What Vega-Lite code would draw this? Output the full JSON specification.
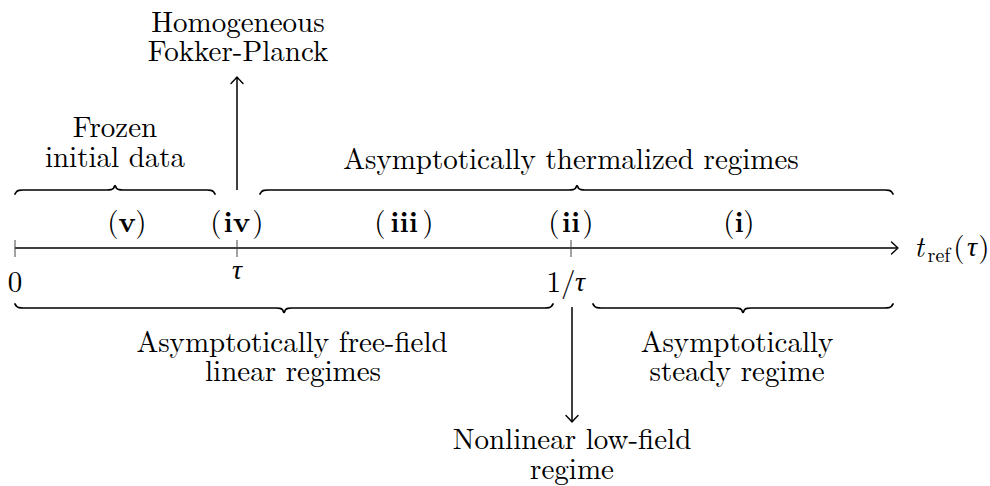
{
  "$schema": "https://vega.github.io/schema/vega-lite/v6.json",
  "width": 990,
  "height": 486,
  "autosize": {"type": "fit", "contains": "padding"},
  "padding": 0,
  "background": "white",
  "config": {"view": {"stroke": null}},
  "datasets": {
    "rules": [
      {"kind": "main", "x": 15, "y": 248, "x2": 897, "y2": 248},
      {"kind": "main", "x": 237, "y": 190, "x2": 237, "y2": 78},
      {"kind": "main", "x": 572, "y": 307, "x2": 572, "y2": 421},
      {"kind": "tick", "x": 15, "y": 240, "x2": 15, "y2": 257},
      {"kind": "tick", "x": 237, "y": 240, "x2": 237, "y2": 257},
      {"kind": "tick", "x": 571, "y": 240, "x2": 571, "y2": 257}
    ],
    "heads": [
      {"id": "right", "o": 1, "x": 891.5, "y": 242},
      {"id": "right", "o": 2, "x": 895.5, "y": 245.8},
      {"id": "right", "o": 3, "x": 898, "y": 248},
      {"id": "right", "o": 4, "x": 895.5, "y": 250.2},
      {"id": "right", "o": 5, "x": 891.5, "y": 254},
      {"id": "up", "o": 1, "x": 231, "y": 83.5},
      {"id": "up", "o": 2, "x": 234.8, "y": 79.5},
      {"id": "up", "o": 3, "x": 237, "y": 77},
      {"id": "up", "o": 4, "x": 239.2, "y": 79.5},
      {"id": "up", "o": 5, "x": 243, "y": 83.5},
      {"id": "down", "o": 1, "x": 566, "y": 415.5},
      {"id": "down", "o": 2, "x": 569.8, "y": 419.5},
      {"id": "down", "o": 3, "x": 572, "y": 422},
      {"id": "down", "o": 4, "x": 574.2, "y": 419.5},
      {"id": "down", "o": 5, "x": 578, "y": 415.5}
    ],
    "braces": [
      {"id": "ul", "x": 15, "y": 194}, {"id": "ul", "x": 16.5, "y": 191.8}, {"id": "ul", "x": 19, "y": 190.4}, {"id": "ul", "x": 23, "y": 190},
      {"id": "ul", "x": 107, "y": 190}, {"id": "ul", "x": 111, "y": 189.6}, {"id": "ul", "x": 113.5, "y": 188.2}, {"id": "ul", "x": 115, "y": 185.5},
      {"id": "ul", "x": 116.5, "y": 188.2}, {"id": "ul", "x": 119, "y": 189.6}, {"id": "ul", "x": 123, "y": 190},
      {"id": "ul", "x": 207, "y": 190}, {"id": "ul", "x": 211, "y": 190.4}, {"id": "ul", "x": 213.5, "y": 191.8}, {"id": "ul", "x": 215, "y": 194},

      {"id": "ur", "x": 260, "y": 194}, {"id": "ur", "x": 261.5, "y": 191.8}, {"id": "ur", "x": 264, "y": 190.4}, {"id": "ur", "x": 268, "y": 190},
      {"id": "ur", "x": 569, "y": 190}, {"id": "ur", "x": 573, "y": 189.6}, {"id": "ur", "x": 575.5, "y": 188.2}, {"id": "ur", "x": 577, "y": 185.5},
      {"id": "ur", "x": 578.5, "y": 188.2}, {"id": "ur", "x": 581, "y": 189.6}, {"id": "ur", "x": 585, "y": 190},
      {"id": "ur", "x": 885, "y": 190}, {"id": "ur", "x": 889, "y": 190.4}, {"id": "ur", "x": 891.5, "y": 191.8}, {"id": "ur", "x": 893, "y": 194},

      {"id": "ll", "x": 15, "y": 304}, {"id": "ll", "x": 16.5, "y": 306.2}, {"id": "ll", "x": 19, "y": 307.6}, {"id": "ll", "x": 23, "y": 308},
      {"id": "ll", "x": 276, "y": 308}, {"id": "ll", "x": 280, "y": 308.4}, {"id": "ll", "x": 282.5, "y": 309.8}, {"id": "ll", "x": 284, "y": 312.5},
      {"id": "ll", "x": 285.5, "y": 309.8}, {"id": "ll", "x": 288, "y": 308.4}, {"id": "ll", "x": 292, "y": 308},
      {"id": "ll", "x": 545, "y": 308}, {"id": "ll", "x": 549, "y": 307.6}, {"id": "ll", "x": 551.5, "y": 306.2}, {"id": "ll", "x": 553, "y": 304},

      {"id": "lr", "x": 593, "y": 304}, {"id": "lr", "x": 594.5, "y": 306.2}, {"id": "lr", "x": 597, "y": 307.6}, {"id": "lr", "x": 601, "y": 308},
      {"id": "lr", "x": 735, "y": 308}, {"id": "lr", "x": 739, "y": 308.4}, {"id": "lr", "x": 741.5, "y": 309.8}, {"id": "lr", "x": 743, "y": 312.5},
      {"id": "lr", "x": 744.5, "y": 309.8}, {"id": "lr", "x": 747, "y": 308.4}, {"id": "lr", "x": 751, "y": 308},
      {"id": "lr", "x": 885, "y": 308}, {"id": "lr", "x": 889, "y": 307.6}, {"id": "lr", "x": 891.5, "y": 306.2}, {"id": "lr", "x": 893, "y": 304}
    ],
    "labels": [
      {"style": "n", "t": "Homogeneous", "x": 238, "y": 23},
      {"style": "n", "t": "Fokker-Planck", "x": 238, "y": 52},
      {"style": "n", "t": "Frozen", "x": 115, "y": 128},
      {"style": "n", "t": "initial data", "x": 115, "y": 158},
      {"style": "n", "t": "Asymptotically thermalized regimes", "x": 571, "y": 160},
      {"style": "n", "t": "Asymptotically free-field", "x": 292, "y": 343},
      {"style": "n", "t": "linear regimes", "x": 293, "y": 372},
      {"style": "n", "t": "Asymptotically", "x": 737, "y": 343},
      {"style": "n", "t": "steady regime", "x": 737, "y": 372},
      {"style": "n", "t": "Nonlinear low-field", "x": 572, "y": 440},
      {"style": "n", "t": "regime", "x": 572, "y": 470},
      {"style": "n", "t": "0", "x": 15, "y": 283},
      {"style": "g", "t": "τ", "x": 237, "y": 271},
      {"style": "n", "t": "1/", "x": 561, "y": 283},
      {"style": "g", "t": "τ", "x": 580, "y": 283},
      {"style": "i", "t": "t", "x": 919, "y": 248},
      {"style": "s", "t": "ref", "x": 939, "y": 256},
      {"style": "n", "t": "(", "x": 959, "y": 248},
      {"style": "g", "t": "τ", "x": 972, "y": 248},
      {"style": "n", "t": ")", "x": 984, "y": 248},
      {"style": "n", "t": "(", "x": 113, "y": 223},
      {"style": "b", "t": "v", "x": 127, "y": 223},
      {"style": "n", "t": ")", "x": 141, "y": 223},
      {"style": "n", "t": "(", "x": 216, "y": 223},
      {"style": "b", "t": "iv", "x": 237, "y": 223},
      {"style": "n", "t": ")", "x": 258, "y": 223},
      {"style": "n", "t": "(", "x": 380, "y": 223},
      {"style": "b", "t": "iii", "x": 404, "y": 223},
      {"style": "n", "t": ")", "x": 428, "y": 223},
      {"style": "n", "t": "(", "x": 554, "y": 223},
      {"style": "b", "t": "ii", "x": 571, "y": 223},
      {"style": "n", "t": ")", "x": 588, "y": 223},
      {"style": "n", "t": "(", "x": 729, "y": 223},
      {"style": "b", "t": "i", "x": 739, "y": 223},
      {"style": "n", "t": ")", "x": 749, "y": 223}
    ]
  },
  "encoding": {
    "x": {"field": "x", "type": "quantitative", "scale": {"domain": [0, 990], "nice": false, "zero": false}, "axis": null},
    "y": {"field": "y", "type": "quantitative", "scale": {"domain": [0, 486], "nice": false, "zero": false, "reverse": true}, "axis": null}
  },
  "layer": [
    {
      "data": {"name": "rules"},
      "transform": [{"filter": "datum.kind === 'main'"}],
      "mark": {"type": "rule", "color": "black", "strokeWidth": 1.5},
      "encoding": {"x2": {"field": "x2"}, "y2": {"field": "y2"}}
    },
    {
      "data": {"name": "rules"},
      "transform": [{"filter": "datum.kind === 'tick'"}],
      "mark": {"type": "rule", "color": "#444", "strokeWidth": 1},
      "encoding": {"x2": {"field": "x2"}, "y2": {"field": "y2"}}
    },
    {
      "data": {"name": "heads"},
      "mark": {"type": "line", "color": "black", "strokeWidth": 1.4, "strokeCap": "round", "strokeJoin": "round"},
      "encoding": {"detail": {"field": "id"}, "order": {"field": "o", "type": "quantitative"}}
    },
    {
      "data": {"name": "braces"},
      "mark": {"type": "line", "color": "black", "strokeWidth": 1.7, "interpolate": "monotone", "strokeCap": "round"},
      "encoding": {"detail": {"field": "id"}, "order": {"field": "x", "type": "quantitative"}}
    },
    {
      "data": {"name": "labels"},
      "transform": [{"filter": "datum.style === 'n'"}],
      "mark": {"type": "text", "font": "Latin Modern Roman", "color": "black", "fontSize": 29, "align": "center", "baseline": "middle"},
      "encoding": {"text": {"field": "t"}}
    },
    {
      "data": {"name": "labels"},
      "transform": [{"filter": "datum.style === 'b'"}],
      "mark": {"type": "text", "font": "Latin Modern Roman", "color": "black", "fontSize": 29, "fontWeight": "bold", "align": "center", "baseline": "middle"},
      "encoding": {"text": {"field": "t"}}
    },
    {
      "data": {"name": "labels"},
      "transform": [{"filter": "datum.style === 'i'"}],
      "mark": {"type": "text", "font": "Latin Modern Roman", "color": "black", "fontSize": 29, "fontStyle": "italic", "align": "center", "baseline": "middle"},
      "encoding": {"text": {"field": "t"}}
    },
    {
      "data": {"name": "labels"},
      "transform": [{"filter": "datum.style === 'g'"}],
      "mark": {"type": "text", "font": "Liberation Serif", "color": "black", "fontSize": 28, "fontStyle": "italic", "align": "center", "baseline": "middle"},
      "encoding": {"text": {"field": "t"}}
    },
    {
      "data": {"name": "labels"},
      "transform": [{"filter": "datum.style === 's'"}],
      "mark": {"type": "text", "font": "Latin Modern Roman", "color": "black", "fontSize": 20, "align": "center", "baseline": "middle"},
      "encoding": {"text": {"field": "t"}}
    }
  ]
}
